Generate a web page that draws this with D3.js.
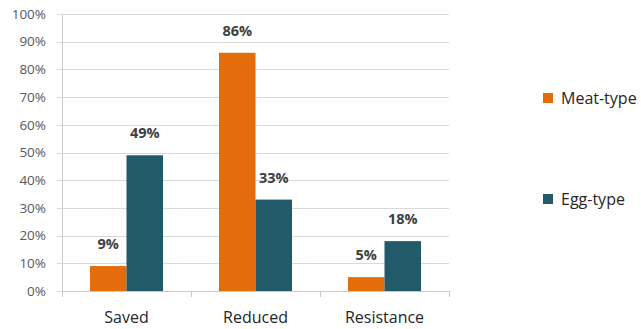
<!DOCTYPE html>
<html>
<head>
<meta charset="utf-8">
<script src="https://cdn.jsdelivr.net/npm/d3@7"></script>
<style>
  html, body { margin: 0; padding: 0; background: #fff; }
  svg { display: block; font-family: "Open Sans", "Noto Sans", sans-serif; }
</style>
</head>
<body>
<svg id="chart" width="641" height="329"></svg>
<script>
// Chart data
const categories = ["Saved", "Reduced", "Resistance"];
const seriesNames = ["Meat-type", "Egg-type"];
const meatType = [9, 86, 5];
const eggType = [49, 33, 18];
const yTicks = [0, 10, 20, 30, 40, 50, 60, 70, 80, 90, 100];
const colors = ["#E46C0A", "#215A69"];

const svg = d3.select("#chart");
const margin = { left: 62, right: 192, top: 14, bottom: 38 };
const W = 641, H = 329;
const innerW = W - margin.left - margin.right;
const innerH = H - margin.top - margin.bottom;
const g = svg.append("g").attr("transform", `translate(${margin.left},${margin.top})`);

const x = d3.scaleBand().domain(categories).range([0, innerW]).padding(0);
const y = d3.scaleLinear().domain([0, 100]).range([innerH, 0]);
const barW = 36.5;
const sub = d3.scaleBand().domain(seriesNames).range([-barW, barW]).padding(0);

// Horizontal gridlines with short ticks to the left
g.append("g").selectAll("line").data(yTicks).join("line")
  .attr("x1", -5).attr("x2", innerW)
  .attr("y1", d => Math.round(y(d)) + 0.5).attr("y2", d => Math.round(y(d)) + 0.5)
  .attr("stroke", "#d9d9d9").attr("stroke-width", 1);

// Y axis tick labels
g.append("g").selectAll("text").data(yTicks).join("text")
  .attr("x", -16).attr("y", d => y(d))
  .attr("dy", "0.35em").attr("text-anchor", "end")
  .attr("font-size", 13.5).attr("fill", "#595959")
  .text(d => d + "%");

// Vertical axis line
g.append("line").attr("x1", 0.5).attr("x2", 0.5).attr("y1", 0).attr("y2", innerH + 5)
  .attr("stroke", "#d0d0d0");

// Bars
const rows = categories.map((c, i) => ({ cat: c, vals: [meatType[i], eggType[i]] }));
const grp = g.selectAll("g.cat").data(rows).join("g")
  .attr("class", "cat")
  .attr("transform", d => `translate(${x(d.cat) + x.bandwidth() / 2},0)`);

grp.selectAll("rect").data(d => d.vals.map((v, j) => ({ v, s: seriesNames[j], j }))).join("rect")
  .attr("x", d => sub(d.s)).attr("width", sub.bandwidth())
  .attr("y", d => y(d.v)).attr("height", d => innerH - y(d.v))
  .attr("fill", d => colors[d.j]);

// Value labels above bars
grp.selectAll("text").data(d => d.vals.map((v, j) => ({ v, s: seriesNames[j], j }))).join("text")
  .attr("x", d => sub(d.s) + sub.bandwidth() / 2)
  .attr("y", d => y(d.v) - 17)
  .attr("text-anchor", "middle")
  .attr("font-size", 14.5).attr("font-weight", "bold").attr("fill", "#404040")
  .text(d => d.v + "%");

// Baseline and category separators
g.append("line").attr("x1", 0).attr("x2", innerW)
  .attr("y1", innerH + 0.5).attr("y2", innerH + 0.5).attr("stroke", "#c8c8c8");
g.append("g").selectAll("line").data(d3.range(categories.length + 1)).join("line")
  .attr("x1", i => Math.round(i * x.step()) + 0.5).attr("x2", i => Math.round(i * x.step()) + 0.5)
  .attr("y1", innerH).attr("y2", innerH + 6).attr("stroke", "#c8c8c8");

// Category labels
g.append("g").selectAll("text").data(categories).join("text")
  .attr("x", d => x(d) + x.bandwidth() / 2).attr("y", innerH + 26)
  .attr("dy", "0.35em").attr("text-anchor", "middle")
  .attr("font-size", 16).attr("fill", "#262626")
  .text(d => d);

// Legend
const legend = svg.append("g");
const legendY = [98, 199];
seriesNames.forEach((s, i) => {
  legend.append("rect").attr("x", 543).attr("y", legendY[i] - 5).attr("width", 10).attr("height", 10)
    .attr("fill", colors[i]);
  legend.append("text").attr("x", 561).attr("y", legendY[i]).attr("dy", "0.35em")
    .attr("font-size", 16).attr("fill", "#262626").text(s);
});
</script>
</body>
</html>
